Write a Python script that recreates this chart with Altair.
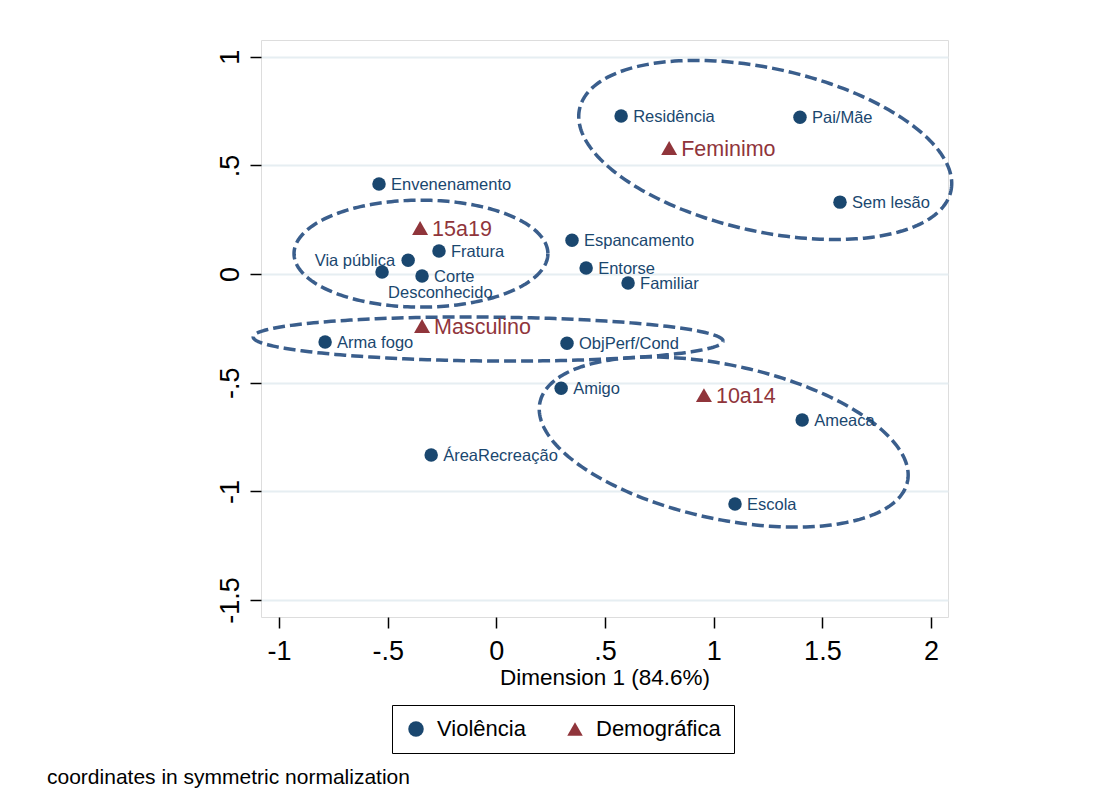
import altair as alt
import numpy as np
import pandas as pd

# ---------------- data ----------------
viol_names = ["Residência", "Pai/Mãe", "Sem lesão", "Envenenamento", "Fratura",
              "Via pública", "Desconhecido", "Corte", "Espancamento", "Entorse",
              "Familiar", "Arma fogo", "ObjPerf/Cond", "Amigo", "Ameaca",
              "ÁreaRecreação", "Escola"]
viol_dim1 = [0.574, 1.397, 1.581, -0.540, -0.264, -0.406, -0.526, -0.342, 0.348, 0.413,
             0.606, -0.788, 0.325, 0.298, 1.407, -0.300, 1.098]
viol_dim2 = [0.727, 0.722, 0.331, 0.414, 0.106, 0.064, 0.009, -0.009, 0.156, 0.028,
             -0.041, -0.313, -0.318, -0.525, -0.672, -0.833, -1.058]
# clock position of each label (Stata style)
viol_labpos = [3, 3, 3, 3, 3, 9, 5, 3, 3, 3, 3, 3, 3, 3, 3, 3, 3]

demo_names = ["Feminimo", "15a19", "Masculino", "10a14"]
demo_dim1 = [0.795, -0.351, -0.342, 0.955]
demo_dim2 = [0.580, 0.212, -0.239, -0.557]

groups = ["Violência", "Demográfica"]

# hand-drawn grouping ellipses: centre, semi-axes, rotation (degrees)
ell_cx = [1.237, -0.347, -0.038, 1.046]
ell_cy = [0.571, 0.094, -0.299, -0.773]
ell_a = [0.875, 0.584, 1.081, 0.865]
ell_b = [0.375, 0.246, 0.101, 0.354]
ell_rot = [-12.5, 0.0, -0.5, -12.2]

x_ticks = [-1, -0.5, 0, 0.5, 1, 1.5, 2]
x_tick_labels = ["-1", "-.5", "0", ".5", "1", "1.5", "2"]
y_ticks = [-1.5, -1, -0.5, 0, 0.5, 1]
y_tick_labels = ["-1.5", "-1", "-.5", "0", ".5", "1"]

x_domain = [-1.083, 2.078]
y_domain = [-1.578, 1.077]

x_title = "Dimension 1 (84.6%)"
note = "coordinates in symmetric normalization"

# ---------------- styling ----------------
NAVY = "#1a476f"
MAROON = "#90353b"
ELL = "#3a5e8c"
FONT = "Liberation Sans"


def label_expr(vals, labs):
    expr = "''"
    for v, l in reversed(list(zip(vals, labs))):
        expr = f"datum.value == {v} ? '{l}' : ({expr})"
    return expr


viol = pd.DataFrame({"name": viol_names, "d1": viol_dim1, "d2": viol_dim2,
                     "pos": viol_labpos, "grp": groups[0]})
demo = pd.DataFrame({"name": demo_names, "d1": demo_dim1, "d2": demo_dim2,
                     "grp": groups[1]})

rows = []
t = np.linspace(0, 2 * np.pi, 241)
for k in range(len(ell_cx)):
    th = np.deg2rad(ell_rot[k])
    xs = ell_cx[k] + ell_a[k] * np.cos(t) * np.cos(th) - ell_b[k] * np.sin(t) * np.sin(th)
    ys = ell_cy[k] + ell_a[k] * np.cos(t) * np.sin(th) + ell_b[k] * np.sin(t) * np.cos(th)
    for i, (xx, yy) in enumerate(zip(xs, ys)):
        rows.append({"e": k, "i": i, "d1": xx, "d2": yy})
ell = pd.DataFrame(rows)

xscale = alt.Scale(domain=x_domain, nice=False, zero=False)
yscale = alt.Scale(domain=y_domain, nice=False, zero=False)

xaxis = alt.Axis(values=x_ticks, labelExpr=label_expr(x_ticks, x_tick_labels),
                 title=x_title, grid=False, domain=False, tickSize=11, tickWidth=1.5,
                 tickColor="black", labelFontSize=27, labelFont=FONT, labelColor="black",
                 labelPadding=10, titleFontSize=22.5, titleFont=FONT,
                 titleFontWeight="normal", titleColor="black", titlePadding=2,
                 labelFlush=False)
yaxis = alt.Axis(values=y_ticks, labelExpr=label_expr(y_ticks, y_tick_labels),
                 title=None, grid=True, gridColor="#e6eef2", gridWidth=2,
                 domain=False, tickSize=11, tickWidth=1.5, tickColor="black",
                 labelFontSize=27, labelFont=FONT, labelColor="black",
                 labelAngle=270, labelAlign="center", labelBaseline="alphabetic",
                 labelPadding=12, labelFlush=False)

X = alt.X("d1:Q", scale=xscale, axis=xaxis)
Y = alt.Y("d2:Q", scale=yscale, axis=yaxis)

color_scale = alt.Scale(domain=groups, range=[NAVY, MAROON])
shape_scale = alt.Scale(domain=groups, range=["circle", "triangle-up"])
legend = alt.Legend(title=None, orient="none", legendX=131, legendY=665,
                    direction="horizontal", strokeColor="black", padding=13,
                    labelFontSize=22, labelFont=FONT, labelColor="black",
                    symbolSize=240, labelOffset=10, columnPadding=38,
                    symbolStrokeWidth=0)

ellipses = alt.Chart(ell).mark_line(
    strokeDash=[12, 5], strokeWidth=3.5, color=ELL, clip=False
).encode(x=X, y=Y, detail="e:N", order="i:Q")

vpts = alt.Chart(viol).mark_point(filled=True, size=182, opacity=1).encode(
    x=X, y=Y,
    color=alt.Color("grp:N", scale=color_scale, legend=legend),
    shape=alt.Shape("grp:N", scale=shape_scale, legend=legend),
)
dpts = alt.Chart(demo).mark_point(filled=True, size=256, opacity=1).encode(
    x=X, y=Y,
    color=alt.Color("grp:N", scale=color_scale, legend=legend),
    shape=alt.Shape("grp:N", scale=shape_scale, legend=legend),
)

vlab_r = alt.Chart(viol).transform_filter("datum.pos == 3").mark_text(
    align="left", baseline="middle", dx=12, dy=1, fontSize=16.5, font=FONT, color=NAVY
).encode(x=X, y=Y, text="name:N")
vlab_l = alt.Chart(viol).transform_filter("datum.pos == 9").mark_text(
    align="right", baseline="middle", dx=-13, dy=1, fontSize=16.5, font=FONT, color=NAVY
).encode(x=X, y=Y, text="name:N")
vlab_b = alt.Chart(viol).transform_filter("datum.pos == 5").mark_text(
    align="left", baseline="middle", dx=6, dy=21, fontSize=16.5, font=FONT, color=NAVY
).encode(x=X, y=Y, text="name:N")
dlab = alt.Chart(demo).mark_text(
    align="left", baseline="middle", dx=12, dy=2, fontSize=21.5, font=FONT, color=MAROON
).encode(x=X, y=Y, text="name:N")

chart = alt.layer(ellipses, vpts, dpts, vlab_r, vlab_l, vlab_b, dlab).properties(
    width=687, height=577,
    title=alt.TitleParams(text=note, orient="bottom", anchor="start", fontSize=21,
                          font=FONT, fontWeight="normal", color="black", dx=-169,
                          offset=13),
    autosize=alt.AutoSizeParams(type="none"),
    padding={"left": 253, "top": 32, "right": 150, "bottom": 180},
).configure_view(stroke="black", strokeWidth=1.6).configure(background="white")

chart.save("out.html", embed_options={"renderer": "svg", "actions": False})
